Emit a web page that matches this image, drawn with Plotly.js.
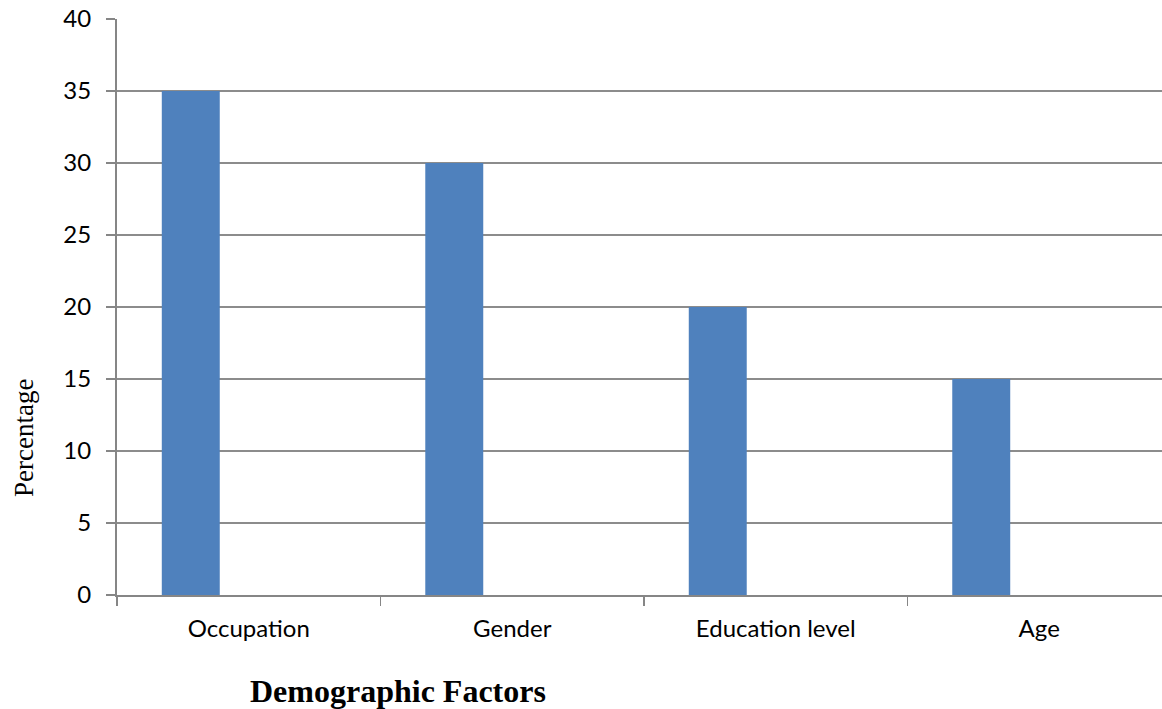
<!DOCTYPE html>
<html>
<head>
<meta charset="utf-8">
<script src="https://cdn.plot.ly/plotly-3.0.1.min.js"></script>
<style>html,body{margin:0;padding:0;background:#fff;overflow:hidden}#chart{width:1162px;height:709px}</style>
</head>
<body>
<div id="chart"></div>
<script>
const categories = ["Occupation", "Gender", "Education level", "Age"];
const percentages = [35, 30, 20, 15];
const yTickValues = [0, 5, 10, 15, 20, 25, 30, 35, 40];
const xTitle = "Demographic Factors";
const yTitle = "Percentage";

const trace = {
  type: "bar",
  x: categories,
  y: percentages,
  width: 0.22,
  offset: -0.33,
  marker: {color: "#4F81BD", line: {width: 0}},
  hoverinfo: "x+y"
};

const layout = {
  width: 1162,
  height: 709,
  margin: {l: 117, r: 0, t: 19, b: 114, pad: 0},
  paper_bgcolor: "#ffffff",
  plot_bgcolor: "#ffffff",
  showlegend: false,
  font: {family: "Lato, 'Open Sans', sans-serif", size: 24, color: "#000000"},
  xaxis: {
    type: "category",
    range: [-0.5, 3.466],
    tickson: "boundaries",
    ticks: "outside",
    ticklen: 9,
    tickwidth: 1.5,
    tickcolor: "#868686",
    showline: true,
    linecolor: "#868686",
    linewidth: 2,
    showgrid: false,
    zeroline: false,
    tickfont: {family: "Lato, sans-serif", size: 24, color: "#000"},
    ticklabelstandoff: 11,
    fixedrange: true
  },
  yaxis: {
    range: [0, 40],
    tickmode: "array",
    tickvals: yTickValues,
    ticktext: yTickValues.map(String),
    ticks: "outside",
    ticklen: 9,
    tickwidth: 1.5,
    tickcolor: "#868686",
    showline: true,
    linecolor: "#868686",
    linewidth: 2,
    showgrid: true,
    gridcolor: "#8c8c8c",
    gridwidth: 1.5,
    zeroline: false,
    tickfont: {family: "Lato, sans-serif", size: 24, color: "#000"},
    ticklabelstandoff: 10,
    fixedrange: true
  },
  annotations: [
    {
      text: "<b>" + xTitle + "</b>",
      xref: "paper", yref: "paper",
      x: (398 - 117) / 1045, y: -(691 - 595) / 576,
      xanchor: "center", yanchor: "middle",
      showarrow: false,
      font: {family: "'Liberation Serif', 'Times New Roman', serif", size: 32, color: "#000"}
    },
    {
      text: yTitle,
      xref: "paper", yref: "paper",
      x: -(117 - 24) / 1045, y: (595 - 438) / 576,
      xanchor: "center", yanchor: "middle",
      textangle: -90,
      showarrow: false,
      font: {family: "'Liberation Serif', 'Times New Roman', serif", size: 27, color: "#000"}
    }
  ]
};

Plotly.newPlot("chart", [trace], layout, {displayModeBar: false, staticPlot: true});
</script>
</body>
</html>
